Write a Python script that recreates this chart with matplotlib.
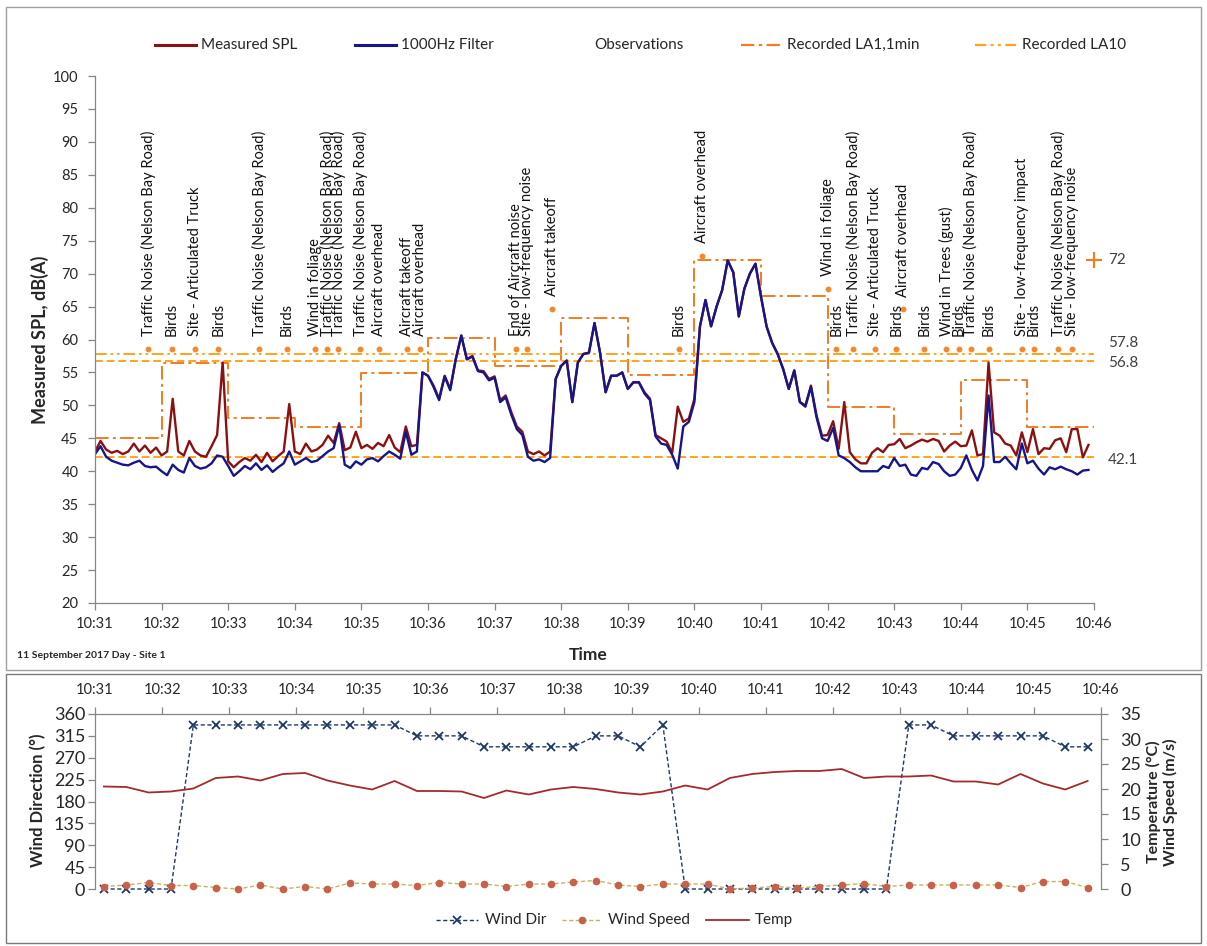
import numpy as np
import matplotlib
matplotlib.use("Agg")
import matplotlib.pyplot as plt
from matplotlib.lines import Line2D
from matplotlib.patches import Rectangle

plt.rcParams['font.family'] = ['Lato', 'DejaVu Sans']

W, H = 1207, 946

# ---- SPL traces, 5 s samples from 10:31:00 (one row = one minute)
measured_spl = [
    43.0, 44.6, 43.3, 42.8, 43.1, 42.6, 43.0, 44.2, 43.0, 43.9, 42.8, 43.6,
    42.4, 43.0, 51.0, 43.0, 42.4, 44.6, 43.0, 42.4, 42.2, 43.8, 45.5, 56.5,
    41.5, 40.6, 41.4, 42.0, 41.6, 42.5, 41.4, 42.8, 41.5, 42.3, 43.0, 50.2,
    43.0, 42.6, 44.2, 43.0, 43.3, 44.0, 45.4, 44.3, 47.3, 43.2, 43.6, 46.0,
    43.5, 44.0, 43.4, 44.3, 43.8, 45.5, 43.6, 42.9, 46.8, 43.8, 44.0, 55.0,
    54.5, 53.0, 51.0, 54.5, 52.5, 57.0, 60.6, 57.0, 57.5, 55.3, 55.2, 54.0,
    54.4, 50.8, 51.5, 49.0, 46.8, 46.0, 43.0, 42.6, 43.0, 42.4, 43.0, 54.0,
    56.0, 56.8, 50.5, 56.5, 57.8, 58.0, 62.5, 58.0, 52.0, 54.5, 54.5, 55.0,
    52.5, 53.5, 53.5, 52.0, 51.0, 45.5, 45.0, 44.5, 42.8, 49.8, 47.5, 48.0,
    51.0, 62.0, 66.0, 62.0, 65.0, 67.5, 72.0, 70.2, 63.5, 67.7, 70.0, 71.5,
    66.5, 62.0, 59.5, 57.8, 55.5, 52.5, 55.3, 50.5, 50.0, 53.0, 48.5, 45.4,
    45.5, 47.6, 43.4, 50.5, 42.9, 41.8, 41.2, 41.2, 42.8, 43.5, 42.9, 44.0,
    44.1, 44.9, 43.5, 43.9, 44.4, 44.8, 44.5, 44.9, 44.6, 43.0, 43.9, 44.5,
    43.8, 43.9, 46.2, 42.4, 42.6, 56.5, 45.9, 45.4, 44.2, 43.9, 42.4, 45.9,
    42.9, 46.4, 42.6, 43.5, 43.4, 44.7, 45.0, 42.9, 46.4, 46.4, 42.1, 44.0,
]
filter_1000hz = [
    42.6, 43.8, 42.2, 41.6, 41.3, 41.0, 40.9, 41.3, 41.6, 40.8, 40.6, 40.7,
    40.0, 39.4, 41.0, 40.2, 39.8, 42.0, 40.8, 40.4, 40.6, 41.2, 42.4, 42.2,
    40.8, 39.3, 40.0, 40.8, 40.3, 41.2, 40.2, 40.9, 39.9, 40.6, 41.2, 43.0,
    41.0, 41.5, 42.0, 41.4, 41.6, 42.3, 43.0, 43.5, 47.0, 41.0, 40.5, 41.5,
    41.0, 41.8, 42.0, 41.5, 42.3, 43.0, 42.5, 41.9, 46.0, 42.5, 43.0, 55.0,
    54.5, 52.8, 50.8, 54.4, 52.3, 57.0, 60.6, 57.0, 57.4, 55.2, 55.0, 53.8,
    54.2, 50.5, 51.2, 48.6, 46.4, 45.5, 42.2, 41.6, 41.8, 41.4, 42.0, 54.0,
    56.0, 56.8, 50.5, 56.5, 57.8, 58.0, 62.5, 58.0, 52.0, 54.5, 54.5, 55.0,
    52.5, 53.5, 53.5, 51.8, 50.8, 45.3, 44.2, 44.0, 42.5, 40.4, 46.8, 47.5,
    50.5, 62.0, 66.0, 62.0, 65.0, 67.5, 72.0, 70.2, 63.5, 67.7, 70.0, 71.5,
    66.5, 62.0, 59.5, 57.8, 55.5, 52.5, 55.3, 50.5, 49.8, 52.8, 48.2, 45.0,
    44.6, 46.6, 42.4, 42.0, 41.4, 40.6, 40.0, 40.0, 40.0, 40.0, 40.8, 40.5,
    42.0, 40.8, 41.0, 39.5, 39.3, 40.5, 40.3, 41.4, 41.1, 40.0, 39.3, 39.5,
    40.5, 42.4, 40.2, 38.6, 40.8, 51.5, 41.4, 41.4, 42.2, 41.2, 40.3, 44.2,
    41.2, 41.6, 40.4, 39.5, 40.6, 40.3, 40.7, 40.3, 40.0, 39.5, 40.1, 40.2,
]
spl_step_s = 5

time_labels = ["10:31", "10:32", "10:33", "10:34", "10:35", "10:36", "10:37", "10:38",
               "10:39", "10:40", "10:41", "10:42", "10:43", "10:44", "10:45", "10:46"]

# recorded levels
la1_1min = [45.0, 56.4, 48.1, 46.7, 54.9, 60.2, 56.0, 63.3, 54.6, 72.0,
            66.6, 49.8, 45.7, 53.9, 46.7]
la10 = 57.8
other_levels = [56.8, 42.1]
la1_max = 72

# observations (seconds after 10:31:00)
obs_s = [48, 69, 90, 111, 148, 173, 198, 209, 219, 239, 256, 281, 293, 379, 389,
         412, 526, 547, 660, 668, 683, 703, 722, 728, 747, 767, 778, 789, 805,
         835, 846, 868, 880]
obs_text = [
    "Traffic Noise (Nelson Bay Road)", "Birds", "Site - Articulated Truck", "Birds",
    "Traffic Noise (Nelson Bay Road)", "Birds", "Wind in foliage",
    "Traffic Noise (Nelson Bay Road)", "Traffic Noise (Nelson Bay Road)",
    "Traffic Noise (Nelson Bay Road)", "Aircraft overhead", "Aircraft takeoff",
    "Aircraft overhead", "End of Aircraft noise", "Site - low-frequency noise",
    "Aircraft takeoff", "Birds", "Aircraft overhead", "Wind in foliage", "Birds",
    "Traffic Noise (Nelson Bay Road)", "Site - Articulated Truck", "Birds",
    "Aircraft overhead", "Birds", "Wind in Trees (gust)", "Birds",
    "Traffic Noise (Nelson Bay Road)", "Birds", "Site - low-frequency impact", "Birds",
    "Traffic Noise (Nelson Bay Road)", "Site - low-frequency noise",
]
obs_level = [58.6] * 15 + [64.7, 58.6, 72.7, 67.7, 58.6, 58.6, 58.6, 58.6, 64.6] + [58.6] * 9

# weather, 20 s samples from 10:31:08
wind_start_s = 8
wind_step_s = 20
wind_dir = [0, 0, 0, 0, 337.5, 337.5, 337.5, 337.5, 337.5, 337.5, 337.5, 337.5, 337.5,
            337.5, 315, 315, 315, 292.5, 292.5, 292.5, 292.5, 292.5, 315, 315, 292.5,
            337.5, 0, 0, 0, 0, 0, 0, 0, 0, 0, 0, 337.5, 337.5, 315, 315, 315, 315, 315,
            292.5, 292.5]
wind_speed = [0.5, 0.8, 1.3, 0.7, 0.7, 0.3, 0.0, 0.8, 0.0, 0.5, 0.0, 1.2, 1.0, 1.0, 0.7,
              1.3, 1.0, 1.0, 0.5, 1.0, 1.0, 1.4, 1.7, 0.8, 0.5, 1.0, 1.0, 1.0, 0.0, 0.2,
              0.5, 0.2, 0.5, 0.8, 1.1, 0.5, 0.8, 0.8, 0.8, 0.8, 0.8, 0.3, 1.5, 1.5, 0.3]
temp = [20.5, 20.4, 19.3, 19.5, 20.1, 22.2, 22.5, 21.7, 23.0, 23.2, 21.7, 20.7, 19.9,
        21.6, 19.6, 19.6, 19.5, 18.2, 19.7, 18.9, 19.9, 20.4, 20.0, 19.3, 18.9, 19.5,
        20.7, 19.9, 22.2, 23.0, 23.4, 23.6, 23.6, 24.0, 22.2, 22.5, 22.5, 22.7, 21.5,
        21.5, 20.9, 23.0, 21.1, 19.9, 21.6]

C_SPL = '#8B1111'
C_FILT = '#16168A'
C_LA1 = '#F47B20'
C_LA10 = '#FFA31A'
C_OBS = '#F5892A'
C_TXT = '#262626'
C_AX = '#868686'


def fx(px):
    return px / W


def fy(py):
    return 1 - py / H


fig = plt.figure(figsize=(W / 100, H / 100), dpi=100)

# chart frames
fig.add_artist(Rectangle((fx(6), fy(670)), (1201 - 6) / W, (670 - 7) / H,
                         transform=fig.transFigure, fill=False, ec='#a0a0a0', lw=1))
fig.add_artist(Rectangle((fx(6), fy(943)), (1201 - 6) / W, (943 - 674) / H,
                         transform=fig.transFigure, fill=False, ec='#7a7a7a', lw=1))

# ---------------- top chart
ax = fig.add_axes([fx(95), fy(603), (1094 - 95) / W, (603 - 76) / H])
spl_t = np.arange(len(measured_spl)) * spl_step_s / 60

ax.step(np.arange(len(la1_1min) + 1), la1_1min + [la1_1min[-1]], where='post',
        color=C_LA1, lw=1.4, dashes=(7, 2.2, 1.5, 2.2))
ax.axhline(la10, color=C_LA10, lw=1.4, dashes=(6, 2, 1.3, 2, 1.3, 2))
for lv in other_levels:
    ax.axhline(lv, color=C_LA10, lw=1.4, dashes=(4, 2))

ax.plot(spl_t, measured_spl, color=C_SPL, lw=1.7)
ax.plot(spl_t, filter_1000hz, color=C_FILT, lw=1.7)

obs_t = np.array(obs_s) / 60
ax.plot(obs_t, obs_level, 'o', color=C_OBS, ms=3.2, ls='none')
for t, lv, lab in zip(obs_t, obs_level, obs_text):
    ax.annotate(lab, (t, lv), xytext=(0, 9), textcoords='offset points', rotation=90,
                ha='center', va='bottom', fontsize=10.5, color='#111111')

ax.plot([15], [la1_max], '+', color=C_LA1, ms=11, mew=1.5, clip_on=False)
for val, dy in [(la10, 8), (other_levels[0], -2), (other_levels[1], -2), (la1_max, 0)]:
    ax.annotate(f"{val:g}", (15, val), xytext=(10, dy), textcoords='offset points',
                ha='left', va='center', fontsize=11, color='#404040', annotation_clip=False)

ax.set_xlim(0, 15)
ax.set_ylim(20, 100)
ax.set_xticks(range(16))
ax.set_xticklabels(time_labels)
ax.set_yticks(range(20, 101, 5))
for s in ['top', 'right']:
    ax.spines[s].set_visible(False)
for s in ['left', 'bottom']:
    ax.spines[s].set_color(C_AX)
    ax.spines[s].set_linewidth(0.9)
ax.tick_params(direction='out', length=5, width=0.9, color=C_AX, labelsize=10.5,
               labelcolor=C_TXT)
ax.tick_params(axis='y', pad=7)
ax.tick_params(axis='x', pad=5)

fig.text(fx(40), fy(340), "Measured SPL, dB(A)", rotation=90, ha='center', va='center',
         fontsize=13, fontweight='bold', color=C_TXT)
fig.text(fx(588), fy(655), "Time", ha='center', va='center', fontsize=12.5,
         fontweight='bold', color=C_TXT)
fig.text(fx(17), fy(655), "11 September 2017 Day - Site 1", ha='left', va='center',
         fontsize=7.5, fontweight='bold', color=C_TXT)

# top legend
ly = fy(45)
leg_top = [
    (155, 196, 201, "Measured SPL", dict(color=C_SPL, lw=2.2)),
    (355, 396, 401, "1000Hz Filter", dict(color=C_FILT, lw=2.2)),
    (None, None, 594, "Observations", None),
    (741, 781, 787, "Recorded LA1,1min", dict(color=C_LA1, lw=1.6, dashes=(6, 2, 1.5, 2))),
    (975, 1016, 1022, "Recorded LA10", dict(color=C_LA10, lw=1.6, dashes=(5, 2, 1.3, 2, 1.3, 2))),
]
for x0, x1, xt, lab, sty in leg_top:
    if sty is not None:
        fig.add_artist(Line2D([fx(x0), fx(x1)], [ly, ly], transform=fig.transFigure, **sty))
    fig.text(fx(xt), ly, lab, ha='left', va='center', fontsize=11, color=C_TXT)

# ---------------- bottom chart
ax2 = fig.add_axes([fx(95), fy(889), (1101 - 95) / W, (889 - 714) / H])
ax3 = ax2.twinx()
wind_t = (wind_start_s + wind_step_s * np.arange(len(wind_dir))) / 60

ax2.plot(wind_t, wind_dir, color='#1F3864', lw=1.0, dashes=(3, 1.8), marker='x',
         ms=6, mew=1.3, clip_on=False)
ax3.plot(wind_t, temp, color='#A52A2A', lw=1.3)
ax3.plot(wind_t, wind_speed, color='#C8B45A', lw=1.0, dashes=(3, 1.8), marker='o',
         ms=4.5, mfc='#C8604A', mec='#C8604A', clip_on=False)

ax2.set_xlim(0, 15)
ax2.set_ylim(0, 360)
ax3.set_ylim(0, 35)
ax2.set_yticks(range(0, 361, 45))
ax3.set_yticks(range(0, 36, 5))
ax2.xaxis.tick_top()
ax2.set_xticks(range(16))
ax2.set_xticklabels(time_labels)
for a in (ax2, ax3):
    for s in a.spines.values():
        s.set_color(C_AX)
        s.set_linewidth(0.9)
    a.spines['bottom'].set_visible(False)
ax3.spines['top'].set_visible(False)
ax3.spines['left'].set_visible(False)
ax2.spines['right'].set_visible(False)
ax2.tick_params(axis='x', direction='out', length=5, width=0.9, color=C_AX,
                labelsize=10.5, labelcolor=C_TXT, pad=7)
ax2.tick_params(axis='y', direction='out', length=5, width=0.9, color=C_AX,
                labelsize=13, labelcolor=C_TXT, pad=2)
ax3.tick_params(axis='y', direction='out', length=5, width=0.9, color=C_AX,
                labelsize=13, labelcolor=C_TXT, pad=9)

fig.text(fx(38), fy(800), "Wind Direction (°)", rotation=90, ha='center', va='center',
         fontsize=12, fontweight='bold', color=C_TXT)
fig.text(fx(1162), fy(802), "Temperature (°C)\nWind Speed (m/s)", rotation=90,
         ha='center', va='center', fontsize=11.5, fontweight='bold', color=C_TXT,
         linespacing=1.1)

# bottom legend
by = fy(920)
fig.add_artist(Line2D([fx(436), fx(457), fx(478)], [by, by, by], transform=fig.transFigure,
                      color='#1F3864', lw=1.0, dashes=(3, 1.8), marker='x', ms=6, mew=1.3,
                      markevery=[1]))
fig.text(fx(485), by, "Wind Dir", ha='left', va='center', fontsize=11, color=C_TXT)
fig.add_artist(Line2D([fx(562), fx(582), fx(602)], [by, by, by], transform=fig.transFigure,
                      color='#C8B45A', lw=1.0, dashes=(3, 1.8), marker='o', ms=4.5,
                      mfc='#C8604A', mec='#C8604A', markevery=[1]))
fig.text(fx(608), by, "Wind Speed", ha='left', va='center', fontsize=11, color=C_TXT)
fig.add_artist(Line2D([fx(706), fx(749)], [by, by], transform=fig.transFigure,
                      color='#A52A2A', lw=1.3))
fig.text(fx(755), by, "Temp", ha='left', va='center', fontsize=11, color=C_TXT)

fig.savefig("out.png", dpi=100)
